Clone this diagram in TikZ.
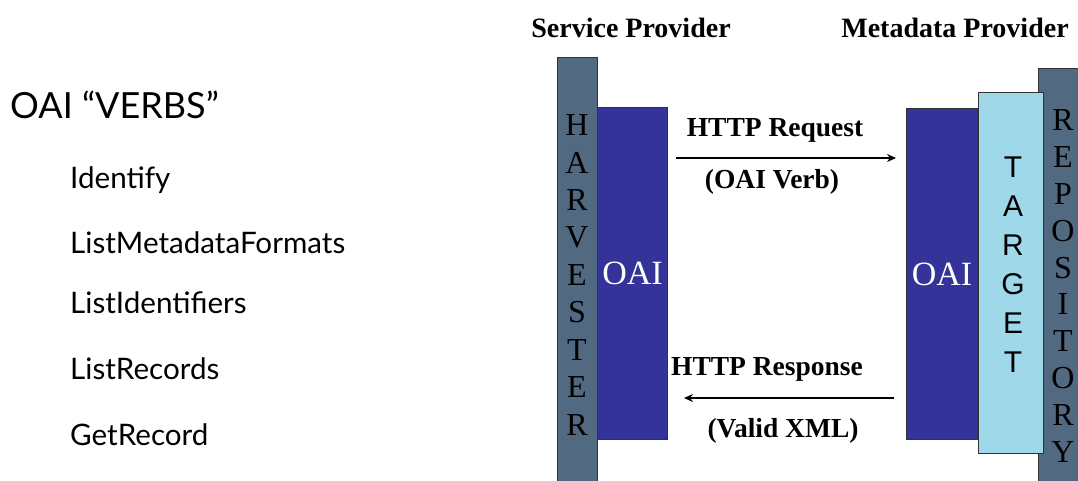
\documentclass[tikz,border=0pt]{standalone}
\usepackage{fontspec}
\setmainfont{Liberation Serif}
\newfontfamily\gill{Lato}
\newfontfamily\arialf{Liberation Sans}
\usetikzlibrary{arrows.meta}
\definecolor{slate}{RGB}{82,105,130}
\definecolor{oaiblue}{RGB}{51,51,153}
\definecolor{tgtblue}{RGB}{158,216,233}
\tikzset{
  bar/.style={draw=black!80, line width=1pt, fill=slate, inner sep=0pt, anchor=north west},
  oaibox/.style={draw=black!80, line width=1pt, fill=oaiblue, inner sep=0pt, anchor=north west},
  tgtbox/.style={draw=black!80, line width=1pt, fill=tgtblue, inner sep=0pt, anchor=north west},
  head/.style={font=\fontsize{28}{30}\selectfont\bfseries},
  lbl/.style={font=\fontsize{27.5}{30}\selectfont\bfseries},
  vlet/.style={font=\fontsize{32}{34}\selectfont, inner sep=0pt},
  tlet/.style={font=\arialf\fontsize{30}{32}\selectfont, inner sep=0pt},
  oait/.style={font=\fontsize{34}{36}\selectfont, text=white, inner sep=0pt},
  verb/.style={font=\gill\fontsize{29.6}{32}\selectfont, anchor=west, inner sep=0pt},
  msg/.style={line width=2.5pt, -{Stealth[length=9pt,width=8pt]}}
}
\begin{document}
\begin{tikzpicture}[x=1pt,y=-1pt]
\useasboundingbox (0,0) rectangle (1078,481);
% left column
\node[verb, font=\gill\fontsize{36}{38}\selectfont] (title) at (10,105) {OAI “VERBS”};
\node[verb] (v1) at (70,180) {Identify};
\node[verb] (v2) at (70,243) {ListMetadataFormats};
\node[verb] (v3) at (70,303) {ListIdentifiers};
\node[verb] (v4) at (70,369) {ListRecords};
\node[verb] (v5) at (70,435) {GetRecord};
% headers
\node[head] (sp) at (631,28) {Service Provider};
\node[head] (mp) at (955,28) {Metadata Provider};
% service provider side
\node[bar, minimum width=40pt, minimum height=430pt] (harv) at (557,57) {};
\node[oaibox, minimum width=70pt, minimum height=332pt] (oail) at (597,107) {};
\node[oait] (oailt) at (oail.center) {OAI};
\foreach \l [count=\i from 0] in {H,A,R,V,E,S,T,E,R}
  \node[vlet] (h\i) at (577,{125+37.5*\i}) {\l};
% metadata provider side
\node[bar, minimum width=50pt, minimum height=420pt] (repo) at (1038,68) {};
\node[tgtbox, minimum width=65pt, minimum height=361pt] (tgt) at (978,92) {};
\node[oaibox, minimum width=71pt, minimum height=331pt] (oair) at (906,108) {};
\node[oait] (oairt) at (oair.center) {OAI};
\foreach \l [count=\i from 0] in {T,A,R,G,E,T}
  \node[tlet] (t\i) at (1013,{167+39*\i}) {\l};
\foreach \l [count=\i from 0] in {R,E,P,O,S,I,T,O,R,Y}
  \node[vlet] (r\i) at (1063,{120+36.9*\i}) {\l};
% messages
\coordinate (reqS) at (676,158);
\coordinate (reqE) at (896,158);
\coordinate (resS) at (894,398);
\coordinate (resE) at (684,398);
\draw[msg] (reqS) -- (reqE);
\draw[msg] (resS) -- (resE);
\node[lbl] (req) at (775,130) {HTTP Request};
\node[lbl] (reqv) at (772,182) {(OAI Verb)};
\node[lbl] (res) at (767,369) {HTTP Response};
\node[lbl] (resv) at (783,431) {(Valid XML)};
\end{tikzpicture}
\end{document}
